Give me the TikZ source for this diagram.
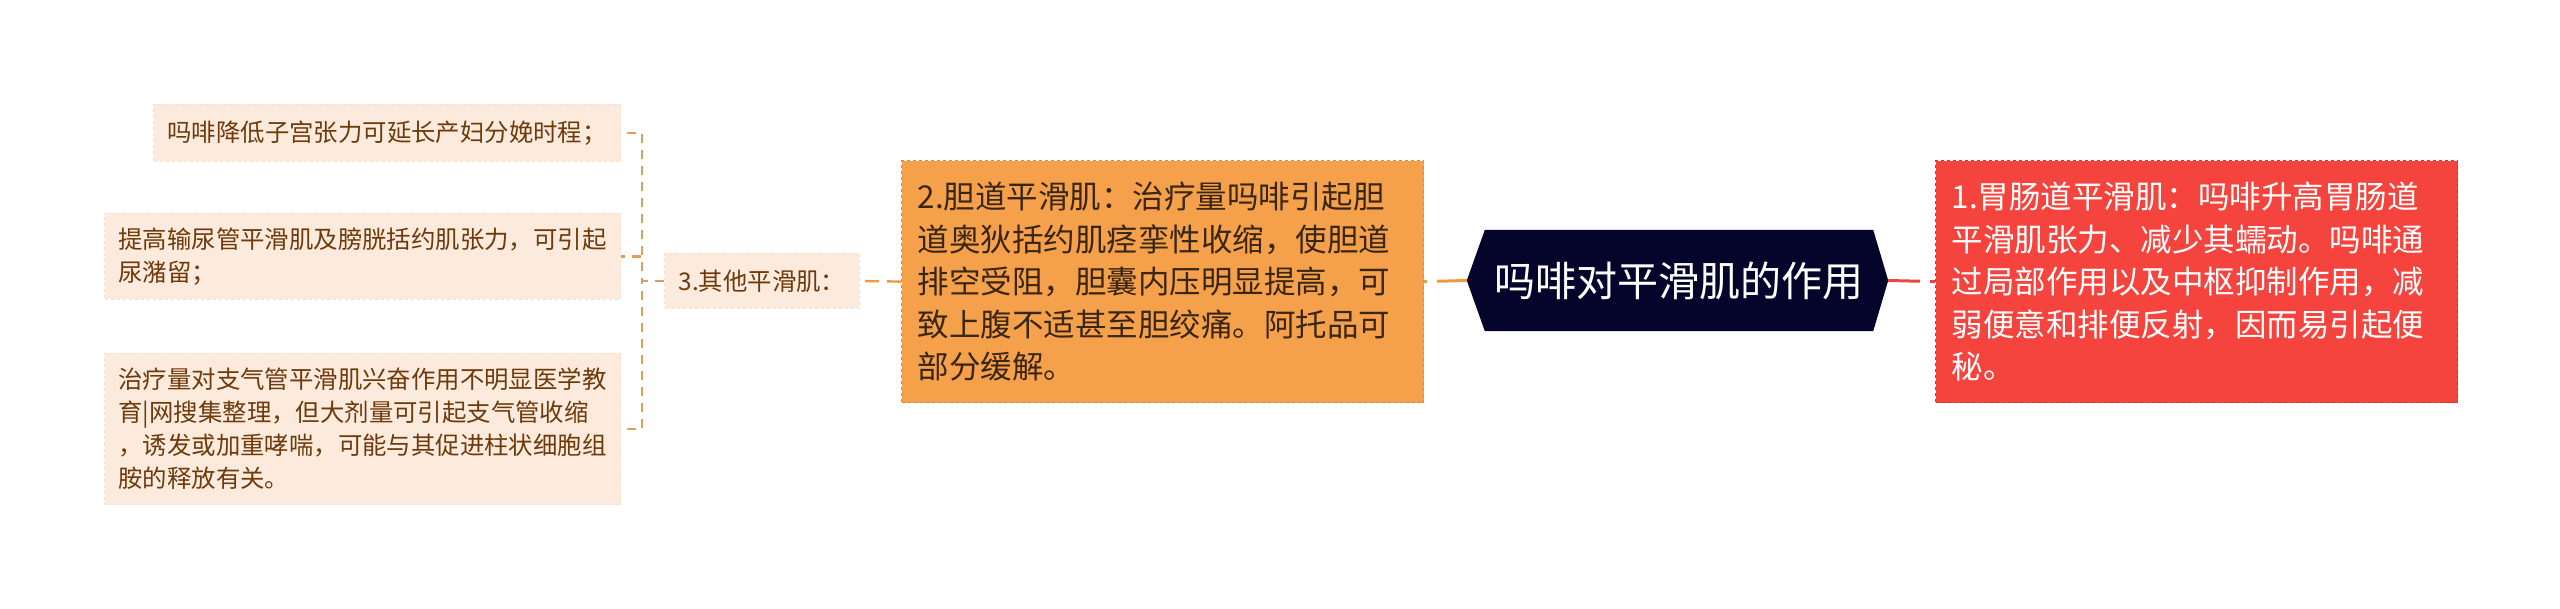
\documentclass[tikz,border=0pt]{standalone}
\usepackage{fontspec}
\newfontfamily\cjk{Noto Sans CJK SC}
\usetikzlibrary{backgrounds}
\definecolor{navy}{HTML}{05052B}
\definecolor{redfill}{HTML}{F5443D}
\definecolor{redline}{HTML}{E8463E}
\definecolor{orfill}{HTML}{F5A14C}
\definecolor{orline}{HTML}{EE9A45}
\definecolor{ortext}{HTML}{3A2612}
\definecolor{peach}{HTML}{FCEBDC}
\definecolor{peachb}{HTML}{F7DFCB}
\definecolor{leaftext}{HTML}{6E3A0C}
\definecolor{lconn}{HTML}{DE9E5C}
\begin{document}
\begin{tikzpicture}[x=1pt,y=-1pt,
  leaf/.style={fill=peach, draw=peachb, dashed, line width=1pt, font=\cjk\fontsize{24.4}{33}\selectfont, text=leaftext, align=left, inner xsep=14pt, inner ysep=0pt, anchor=north west},
  bigbox/.style={dashed, line width=1.2pt, font=\cjk\fontsize{31.5}{42.5}\selectfont, align=left, text width=490pt, inner xsep=16pt, inner ysep=0pt, minimum height=242pt, anchor=north west},
  rootbox/.style={font=\cjk\fontsize{41}{48}\selectfont, text=white, inner sep=0pt, minimum width=388pt, minimum height=101pt},
  redconn/.style={draw=redline, line width=3pt, dash pattern=on 32pt off 10pt},
  orconn/.style={draw=orline, line width=3pt, dash pattern=on 30pt off 10pt},
  orconn2/.style={draw=orline, line width=2.4pt, dash pattern=on 14pt off 8pt},
  leafconn/.style={draw=lconn, line width=2.4pt, dash pattern=on 9pt off 7pt}
]
\useasboundingbox (0,0) rectangle (2560,609);

\node[rootbox] (root) at (1679,280.5) {吗啡对平滑肌的作用};
\coordinate (rtipE) at ([xshift=15]root.east);
\coordinate (rtipW) at ([xshift=-18]root.west);
\begin{scope}[on background layer]
\fill[navy] (root.north west) -- (root.north east) -- (rtipE) -- (root.south east) -- (root.south west) -- (rtipW) -- cycle;
\end{scope}

\node[bigbox, fill=redfill, draw=redline!85!black, text=white] (red) at (1935,160) {1.胃肠道平滑肌：吗啡升高胃肠道\\平滑肌张力、减少其蠕动。吗啡通\\过局部作用以及中枢抑制作用，减\\弱便意和排便反射，因而易引起便\\秘。};

\node[bigbox, fill=orfill, draw=orline!90!black, text=ortext] (orange) at (901,160) {2.胆道平滑肌：治疗量吗啡引起胆\\道奥狄括约肌痉挛性收缩，使胆道\\排空受阻，胆囊内压明显提高，可\\致上腹不适甚至胆绞痛。阿托品可\\部分缓解。};

\node[leaf, minimum width=193pt, minimum height=55pt] (other) at (664,253) {3.其他平滑肌：};

\node[leaf, minimum width=466pt, minimum height=57pt] (l1) at (153,104) {吗啡降低子宫张力可延长产妇分娩时程；};
\node[leaf, minimum width=516pt, minimum height=86pt] (l2) at (104,213) {提高输尿管平滑肌及膀胱括约肌张力，可引起\\尿潴留；};
\node[leaf, minimum width=515pt, minimum height=151pt] (l3) at (104,353) {治疗量对支气管平滑肌兴奋作用不明显医学教\\育|网搜集整理，但大剂量可引起支气管收缩\\，诱发或加重哮喘，可能与其促进柱状细胞组\\胺的释放有关。};

\draw[redconn] (rtipE) -- (red.west);
\draw[orconn] (rtipW) -- (orange.east);
\draw[orconn2] (orange.west) -- (other.east);
\draw[leafconn] (other.west) -- ++(-22,0) |- (l1.east);
\draw[leafconn] (other.west) -- ++(-22,0) |- (l2.east);
\draw[leafconn] (other.west) -- ++(-22,0) |- (l3.east);
\end{tikzpicture}
\end{document}
